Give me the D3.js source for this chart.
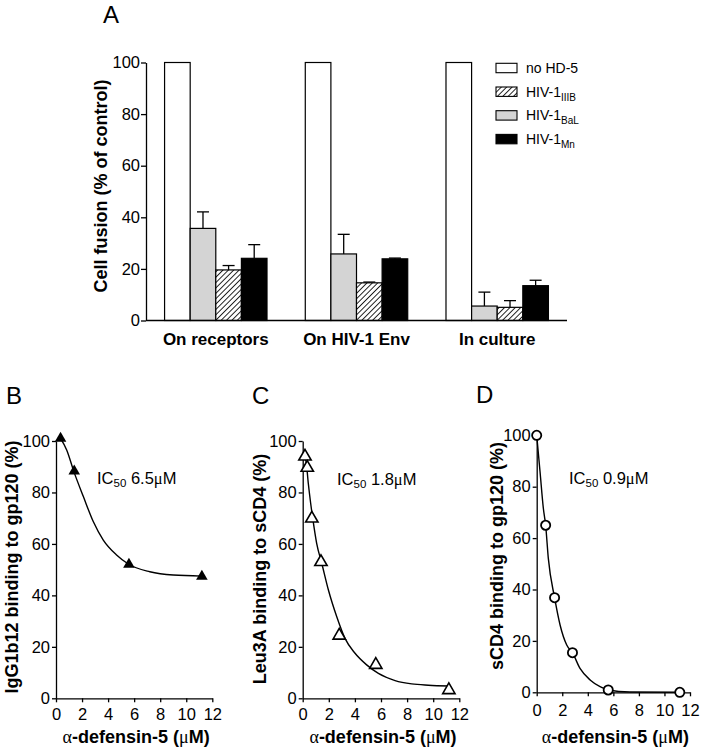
<!DOCTYPE html>
<html>
<head>
<meta charset="utf-8">
<script src="https://cdn.jsdelivr.net/npm/d3@7"></script>
<style>
  body { margin: 0; background: #fff; }
  svg { display: block; font-family: 'Liberation Sans', Arial, Helvetica, sans-serif; }
</style>
</head>
<body>
<div id="chart"></div>
<script>
// ---- panel A data ----
var groups = ['On receptors', 'On HIV-1 Env', 'In culture'];
var barOrder = ['none', 'bal', 'iiib', 'mn'];
var noHD5 = [100, 100, 100];
var balMean = [35.7, 25.8, 5.6];
var balErr = [6.4, 7.6, 5.4];
var iiibMean = [19.6, 14.6, 5.1];
var iiibErr = [1.7, 0.3, 2.6];
var mnMean = [24.1, 23.9, 13.5];
var mnErr = [5.3, 0.3, 2.1];
var legendOrder = ['none', 'iiib', 'bal', 'mn'];
var legendMain = ['no HD-5', 'HIV-1', 'HIV-1', 'HIV-1'];
var legendSub = ['', 'IIIB', 'BaL', 'Mn'];
var yTicksA = [0, 20, 40, 60, 80, 100];

// ---- panels B-D data ----
var bDose = [0.35, 1.4, 5.6, 11.2];
var bBinding = [101, 88.3, 52, 47.4];
var bFitX = [0.35, 0.82, 1.38, 2.1, 2.86, 3.63, 4.65, 5.55, 7.2, 9.0, 11.2];
var bFitY = [101, 96.5, 88, 78.4, 68.7, 61.5, 55.7, 52.2, 49.2, 47.9, 47.5];

var cDose = [0.175, 0.35, 0.7, 1.4, 2.8, 5.6, 11.2];
var cBinding = [94, 89.6, 69.9, 53, 24.4, 13, 3.2];
var cFitX = [0.175, 0.26, 0.43, 0.61, 0.77, 1.07, 1.46, 1.97, 2.61, 3.24, 4.01, 4.9, 5.8, 7.08, 8.35, 9.63, 11.2];
var cFitY = [93.5, 92, 83.5, 75.8, 69.9, 60.2, 52.5, 42.1, 31.7, 23.3, 17.5, 13, 9.7, 6.9, 5.6, 5.1, 4.8];

var dDose = [0, 0.7, 1.4, 2.8, 5.6, 11.2];
var dBinding = [100, 65, 36.8, 15.4, 0.9, 0];
var dFitX = [0, 0.26, 0.52, 0.7, 0.91, 1.4, 1.83, 2.35, 2.8, 3.39, 4.18, 4.96, 5.6, 7.3, 11.2];
var dFitY = [100, 85.9, 71.6, 65, 52.1, 36.8, 26.2, 18.4, 15.4, 9.3, 4.8, 2.2, 0.9, 0.1, 0];

var xTicksDose = [0, 2, 4, 6, 8, 10, 12];
var yTicksBind = [0, 20, 40, 60, 80, 100];

var serif = "'Liberation Serif', 'Times New Roman', serif";

var svg = d3.select('#chart').append('svg')
  .attr('width', 703)
  .attr('height', 756);

var defs = svg.append('defs');
defs.append('pattern')
  .attr('id', 'hatch')
  .attr('patternUnits', 'userSpaceOnUse')
  .attr('width', 3.8)
  .attr('height', 3.8)
  .attr('patternTransform', 'rotate(45)')
  .call(p => {
    p.append('rect').attr('width', 3.8).attr('height', 3.8).attr('fill', '#fff');
    p.append('line').attr('x1', 0).attr('y1', 0).attr('x2', 0).attr('y2', 3.8)
      .attr('stroke', '#000').attr('stroke-width', 1.7);
  });

var fills = { none: '#ffffff', bal: '#d4d4d4', iiib: 'url(#hatch)', mn: '#000000' };

function styleAxis(g) {
  g.attr('font-family', null);
  g.selectAll('path, line').attr('stroke', '#000').attr('stroke-width', 1.3);
  g.selectAll('text').attr('fill', '#000');
}

/* ############ PANEL A ############ */
var panelA = svg.append('g');

panelA.append('text').attr('x', 103).attr('y', 23)
  .attr('font-size', 24).text('A');

var x0 = d3.scaleBand().domain(groups).range([146, 567])
  .paddingInner(0.272).paddingOuter(0.132);
var x1 = d3.scaleBand().domain(barOrder).range([0, x0.bandwidth()]);
var yA = d3.scaleLinear().domain([0, 100]).range([320.5, 62.5]);

var barData = groups.map((g, i) => ({
  group: g,
  bars: [
    { key: 'none', v: noHD5[i], e: 0 },
    { key: 'bal', v: balMean[i], e: balErr[i] },
    { key: 'iiib', v: iiibMean[i], e: iiibErr[i] },
    { key: 'mn', v: mnMean[i], e: mnErr[i] }
  ]
}));

var gGroups = panelA.selectAll('.grp')
  .data(barData).enter().append('g')
  .attr('class', 'grp')
  .attr('transform', d => `translate(${x0(d.group)},0)`);

// error bars (upward only)
gGroups.selectAll('.err')
  .data(d => d.bars.filter(b => b.e > 0))
  .enter().append('g')
  .attr('class', 'err')
  .each(function (b) {
    var cx = x1(b.key) + x1.bandwidth() / 2;
    var g = d3.select(this);
    g.append('line').attr('x1', cx).attr('x2', cx)
      .attr('y1', yA(b.v)).attr('y2', yA(b.v + b.e))
      .attr('stroke', '#000').attr('stroke-width', 1.3);
    g.append('line').attr('x1', cx - 6).attr('x2', cx + 6)
      .attr('y1', yA(b.v + b.e)).attr('y2', yA(b.v + b.e))
      .attr('stroke', '#000').attr('stroke-width', 1.3);
  });

gGroups.selectAll('rect')
  .data(d => d.bars)
  .enter().append('rect')
  .attr('x', b => x1(b.key))
  .attr('width', x1.bandwidth())
  .attr('y', b => yA(b.v))
  .attr('height', b => yA(0) - yA(b.v))
  .attr('fill', b => fills[b.key])
  .attr('stroke', '#000')
  .attr('stroke-width', 1.2);

panelA.append('g')
  .attr('transform', 'translate(146,0)')
  .call(d3.axisLeft(yA).tickValues(yTicksA).tickSize(5).tickSizeOuter(0).tickPadding(1))
  .attr('font-size', 16.5)
  .call(styleAxis);

panelA.append('line')
  .attr('x1', 146).attr('x2', 567)
  .attr('y1', yA(0)).attr('y2', yA(0))
  .attr('stroke', '#000').attr('stroke-width', 1.3);

panelA.selectAll('.cat')
  .data(groups).enter().append('text')
  .attr('class', 'cat')
  .attr('x', d => x0(d) + x0.bandwidth() / 2)
  .attr('y', 345)
  .attr('text-anchor', 'middle')
  .attr('font-size', 17)
  .attr('font-weight', 'bold')
  .text(d => d);

panelA.append('text')
  .attr('transform', 'translate(107,186) rotate(-90)')
  .attr('text-anchor', 'middle')
  .attr('font-size', 18)
  .attr('font-weight', 'bold')
  .text('Cell fusion (% of control)');

// legend
var legend = panelA.selectAll('.leg')
  .data(legendOrder).enter().append('g')
  .attr('class', 'leg')
  .attr('transform', (d, i) => `translate(496,${68 + i * 23.7})`);

legend.append('rect')
  .attr('x', 0).attr('y', -4.7)
  .attr('width', 21).attr('height', 9.4)
  .attr('fill', d => fills[d])
  .attr('stroke', '#000').attr('stroke-width', 1.1);

legend.append('text')
  .attr('x', 30).attr('y', 5)
  .attr('font-size', 14)
  .attr('fill', '#000')
  .each(function (d, i) {
    var t = d3.select(this);
    t.append('tspan').text(legendMain[i]);
    if (legendSub[i]) {
      t.append('tspan').attr('font-size', 10).attr('dy', 4).text(legendSub[i]);
    }
  });

/* ############ PANELS B-D ############ */
var panels = [
  { letter: 'B', lx: 6, ly: 404, left: 56, right: 212.3, top: 441, bottom: 698.3,
    dose: bDose, binding: bBinding, fitX: bFitX, fitY: bFitY, marker: 'triFilled',
    ylabel: 'IgG1b12 binding to gp120 (%)', ylx: 18, yly: 567,
    ic: '6.5', icx: 97, icy: 484, tickY: 720 },
  { letter: 'C', lx: 252, ly: 404, left: 302.7, right: 459.3, top: 441, bottom: 698.3,
    dose: cDose, binding: cBinding, fitX: cFitX, fitY: cFitY, marker: 'triOpen',
    ylabel: 'Leu3A binding to sCD4 (%)', ylx: 266, yly: 569,
    ic: '1.8', icx: 337, icy: 485, tickY: 720 },
  { letter: 'D', lx: 476, ly: 403, left: 536.7, right: 690, top: 435.3, bottom: 692.3,
    dose: dDose, binding: dBinding, fitX: dFitX, fitY: dFitY, marker: 'circle',
    ylabel: 'sCD4 binding to gp120 (%)', ylx: 503, yly: 556,
    ic: '0.9', icx: 569, icy: 484, tickY: 716 }
];

panels.forEach(p => {
  var g = svg.append('g');
  var x = d3.scaleLinear().domain([0, 12]).range([p.left, p.right]);
  var y = d3.scaleLinear().domain([0, 100]).range([p.bottom, p.top]);

  g.append('text').attr('x', p.lx).attr('y', p.ly)
    .attr('font-size', 24).text(p.letter);

  var xa = g.append('g')
    .attr('transform', `translate(0,${p.bottom})`)
    .call(d3.axisBottom(x).tickValues(xTicksDose).tickSize(4).tickSizeOuter(0).tickPadding(3))
    .attr('font-size', 16.5)
    .call(styleAxis);
  xa.selectAll('text').attr('y', null).attr('dy', null)
    .attr('transform', `translate(0,${p.tickY - p.bottom})`);

  g.append('g')
    .attr('transform', `translate(${p.left},0)`)
    .call(d3.axisLeft(y).tickValues(yTicksBind).tickSize(4).tickSizeOuter(0).tickPadding(2))
    .attr('font-size', 16.5)
    .call(styleAxis);

  var fit = p.fitX.map((v, i) => [v, p.fitY[i]]);
  g.append('path')
    .datum(fit)
    .attr('d', d3.line().x(d => x(d[0])).y(d => y(d[1])).curve(d3.curveMonotoneX))
    .attr('fill', 'none')
    .attr('stroke', '#000')
    .attr('stroke-width', 1.4);

  var pts = p.dose.map((v, i) => [v, p.binding[i]]);
  var sym = g.selectAll('.pt').data(pts).enter().append('path')
    .attr('class', 'pt')
    .attr('transform', d => `translate(${x(d[0])},${y(d[1])})`);
  if (p.marker === 'triFilled') {
    sym.attr('d', d3.symbol(d3.symbolTriangle, 58)).attr('fill', '#000');
  } else if (p.marker === 'triOpen') {
    sym.attr('d', d3.symbol(d3.symbolTriangle, 66)).attr('fill', '#fff')
      .attr('stroke', '#000').attr('stroke-width', 1.6);
  } else {
    sym.attr('d', d3.symbol(d3.symbolCircle, Math.PI * 4.6 * 4.6)).attr('fill', '#fff')
      .attr('stroke', '#000').attr('stroke-width', 1.8);
  }

  g.append('text')
    .attr('transform', `translate(${p.ylx},${p.yly}) rotate(-90)`)
    .attr('text-anchor', 'middle')
    .attr('font-size', 18)
    .attr('font-weight', 'bold')
    .text(p.ylabel);

  var xl = g.append('text')
    .attr('x', (p.left + p.right) / 2 + 2)
    .attr('y', 743)
    .attr('text-anchor', 'middle')
    .attr('font-size', 18)
    .attr('font-weight', 'bold');
  xl.append('tspan').attr('font-family', serif).attr('font-weight', 'normal').text('\u03b1');
  xl.append('tspan').text('-defensin-5 (');
  xl.append('tspan').attr('font-family', serif).attr('font-weight', 'normal').text('\u03bc');
  xl.append('tspan').text('M)');

  var ic = g.append('text').attr('x', p.icx).attr('y', p.icy).attr('font-size', 16.5);
  ic.append('tspan').text('IC');
  ic.append('tspan').attr('font-size', 11.5).attr('dy', 3).text('50');
  ic.append('tspan').attr('dy', -3).text(' ' + p.ic);
  ic.append('tspan').attr('font-family', serif).text('\u03bc');
  ic.append('tspan').text('M');
});
</script>
</body>
</html>
